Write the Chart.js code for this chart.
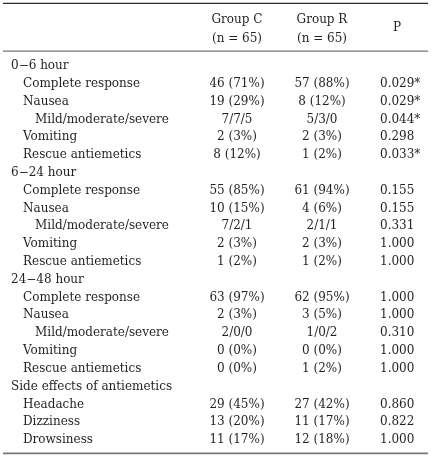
<!DOCTYPE html>
<html>
<head>
<meta charset="utf-8">
<script src="https://cdn.jsdelivr.net/npm/chart.js@4"></script>
<style>
  html, body { margin: 0; padding: 0; background: #fff; }
  #wrap { width: 431px; height: 458px; }
</style>
</head>
<body>
<div id="wrap"><canvas id="tbl" width="431" height="458"></canvas></div>
<script>
'use strict';

// --- table data ---
const headerC = ['Group C', '(n = 65)'];
const headerR = ['Group R', '(n = 65)'];
const headerP = 'P';

const rowLabels = [
  '0\u22126 hour', 'Complete response', 'Nausea', 'Mild/moderate/severe', 'Vomiting', 'Rescue antiemetics',
  '6\u221224 hour', 'Complete response', 'Nausea', 'Mild/moderate/severe', 'Vomiting', 'Rescue antiemetics',
  '24\u221248 hour', 'Complete response', 'Nausea', 'Mild/moderate/severe', 'Vomiting', 'Rescue antiemetics',
  'Side effects of antiemetics', 'Headache', 'Dizziness', 'Drowsiness',
];
const rowLevels = [0, 1, 1, 2, 1, 1, 0, 1, 1, 2, 1, 1, 0, 1, 1, 2, 1, 1, 0, 1, 1, 1];

const groupC = [
  '', '46 (71%)', '19 (29%)', '7/7/5', '2 (3%)', '8 (12%)',
  '', '55 (85%)', '10 (15%)', '7/2/1', '2 (3%)', '1 (2%)',
  '', '63 (97%)', '2 (3%)', '2/0/0', '0 (0%)', '0 (0%)',
  '', '29 (45%)', '13 (20%)', '11 (17%)',
];
const groupR = [
  '', '57 (88%)', '8 (12%)', '5/3/0', '2 (3%)', '1 (2%)',
  '', '61 (94%)', '4 (6%)', '2/1/1', '2 (3%)', '1 (2%)',
  '', '62 (95%)', '3 (5%)', '1/0/2', '0 (0%)', '1 (2%)',
  '', '27 (42%)', '11 (17%)', '12 (18%)',
];
const pValues = [
  '', '0.029*', '0.029*', '0.044*', '0.298', '0.033*',
  '', '0.155', '0.155', '0.331', '1.000', '1.000',
  '', '1.000', '1.000', '0.310', '1.000', '1.000',
  '', '0.860', '0.822', '1.000',
];

// --- layout (in scale units) ---
const COL = { label: [11, 23, 35], c: 237, r: 322, p: 380, pHead: 397 };
const HEAD_ROWS = { line1: -2.58, line2: -1.52, p: -2.13 };
const RULES = [
  { y: -3.52, w: 1.2, color: '#2a2a2a' },
  { y: -0.84, w: 1.3, color: '#777' },
  { y: 21.75, w: 1.7, color: '#777' },
];
const FONT = '12px "DejaVu Serif"';
const INK = '#231f20';

const tablePlugin = {
  id: 'tableCells',
  afterDraw(chart) {
    const { ctx, scales: { x, y } } = chart;
    ctx.save();
    ctx.font = FONT;
    ctx.fillStyle = INK;
    ctx.textBaseline = 'middle';

    const put = (txt, xv, yv, align) => {
      if (!txt) return;
      ctx.textAlign = align;
      ctx.fillText(txt, x.getPixelForValue(xv), y.getPixelForValue(yv));
    };

    // header
    put(headerC[0], COL.c, HEAD_ROWS.line1, 'center');
    put(headerC[1], COL.c, HEAD_ROWS.line2, 'center');
    put(headerR[0], COL.r, HEAD_ROWS.line1, 'center');
    put(headerR[1], COL.r, HEAD_ROWS.line2, 'center');
    put(headerP, COL.pHead, HEAD_ROWS.p, 'center');

    // body
    rowLabels.forEach((lab, i) => {
      put(lab, COL.label[rowLevels[i]], i, 'left');
      put(groupC[i], COL.c, i, 'center');
      put(groupR[i], COL.r, i, 'center');
      put(pValues[i], COL.p, i, 'left');
    });

    // rules
    RULES.forEach(r => {
      const py = y.getPixelForValue(r.y);
      ctx.beginPath();
      ctx.lineWidth = r.w;
      ctx.strokeStyle = r.color;
      ctx.moveTo(x.getPixelForValue(3), py);
      ctx.lineTo(x.getPixelForValue(428), py);
      ctx.stroke();
    });
    ctx.restore();
  },
};

new Chart(document.getElementById('tbl').getContext('2d'), {
  type: 'scatter',
  data: { datasets: [] },
  options: {
    responsive: false,
    animation: false,
    devicePixelRatio: 1,
    layout: { padding: 0 },
    plugins: { legend: { display: false }, tooltip: { enabled: false } },
    scales: {
      x: { type: 'linear', min: 0, max: 431, display: false },
      y: { type: 'linear', min: -3.706, max: 22.01, reverse: true, display: false },
    },
  },
  plugins: [tablePlugin],
});
</script>
</body>
</html>
